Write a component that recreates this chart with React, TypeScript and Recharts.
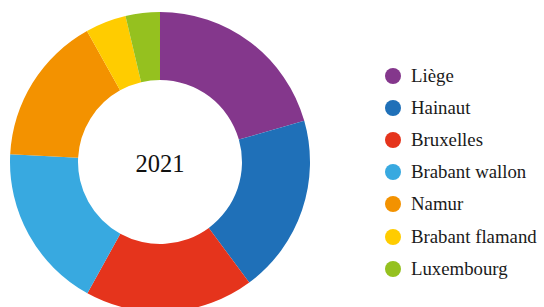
import { PieChart, Pie, Cell } from 'recharts';

const provinces = ['Liège', 'Hainaut', 'Bruxelles', 'Brabant wallon', 'Namur', 'Brabant flamand', 'Luxembourg'];
const shares = [20.6, 19.3, 18.2, 17.8, 16.1, 4.4, 3.7];
const colors = ['#84378C', '#1F70B8', '#E5341C', '#38A9E0', '#F39200', '#FFCC00', '#95C11F'];
const year = '2021';

const data = provinces.map((name, i) => ({ name, value: shares[i] }));

const font = "'Liberation Serif', 'DejaVu Serif', serif";

export default function App() {
  return (
    <div style={{ position: 'fixed', top: 0, left: 0, width: 544, height: 307, background: '#fff' }}>
      <PieChart width={544} height={307} margin={{ top: 0, right: 0, bottom: 0, left: 0 }}>
        <Pie
          data={data}
          dataKey="value"
          nameKey="name"
          cx={160}
          cy={162}
          innerRadius={82}
          outerRadius={150}
          startAngle={90}
          endAngle={-270}
          stroke="none"
          isAnimationActive={false}
        >
          {data.map((d, i) => (
            <Cell key={d.name} fill={colors[i]} />
          ))}
        </Pie>
      </PieChart>
      <div
        style={{
          position: 'absolute', left: 110, top: 149, width: 100, textAlign: 'center',
          fontFamily: font, fontSize: 24.5, lineHeight: '30px', color: '#111',
        }}
      >
        {year}
      </div>
      {/* legende a droite, pastilles rondes */}
      <div style={{ position: 'absolute', left: 385, top: 59.5, width: 159, fontFamily: font }}>
        {provinces.map((p, i) => (
          <div key={p} style={{ display: 'flex', alignItems: 'center', height: 32.2 }}>
            <span
              style={{
                width: 16, height: 16, borderRadius: 8, flexShrink: 0,
                background: colors[i], display: 'inline-block', marginRight: 10,
              }}
            />
            <span style={{ fontSize: 18.8, color: '#1a1a1a', whiteSpace: 'nowrap' }}>{p}</span>
          </div>
        ))}
      </div>
    </div>
  );
}
